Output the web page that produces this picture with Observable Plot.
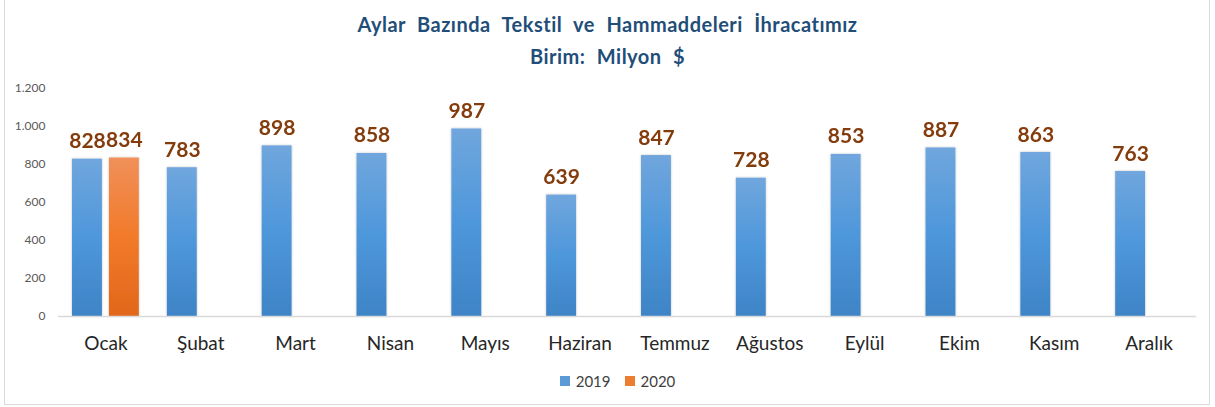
<!DOCTYPE html>
<html>
<head>
<meta charset="utf-8">
<script src="https://cdn.jsdelivr.net/npm/d3@7"></script>
<script src="https://cdn.jsdelivr.net/npm/@observablehq/plot@0.6"></script>
<style>
  html, body { margin: 0; padding: 0; background: #fff; }
  #wrap { position: relative; width: 1215px; height: 407px; overflow: hidden; font-family: Lato, "Open Sans", sans-serif; }
  #frame { position: absolute; left: 4px; top: -1px; width: 1206px; height: 406px; border: 1px solid #d9d9d9; box-sizing: border-box; }
  .title { position: absolute; left: 0; width: 1215px; text-align: center; font-weight: bold; color: #1f4e79; font-size: 20px; letter-spacing: 0.5px; word-spacing: 6px; }
  #chart { position: absolute; left: 0; top: 75px; }
  #legend { position: absolute; left: 10px; width: 1215px; top: 371px; text-align: center; font-size: 15px; color: #404040; }
  #legend span.item { display: inline-flex; align-items: center; margin: 0 7px; }
  #legend span.sw { display: inline-block; width: 10px; height: 10px; margin-right: 6px; }
</style>
</head>
<body>
<div id="wrap">
  <div id="frame"></div>
  <div class="title" style="top:12px">Aylar Bazında Tekstil ve Hammaddeleri İhracatımız</div>
  <div class="title" style="top:44px">Birim: Milyon $</div>
  <div id="chart"></div>
  <div id="legend"></div>
</div>
<script>
const months = ["Ocak", "Şubat", "Mart", "Nisan", "Mayıs", "Haziran", "Temmuz", "Ağustos", "Eylül", "Ekim", "Kasım", "Aralık"];
const years = ["2019", "2020"];
const values2019 = [828, 783, 898, 858, 987, 639, 847, 728, 853, 887, 863, 763];
const values2020 = [834];
const yTicks = [0, 200, 400, 600, 800, 1000, 1200];
const seriesColors = ["#5b9bd5", "#ed7d31"];

const data = [];
months.forEach((m, i) => {
  if (values2019[i] != null) data.push({month: m, year: years[0], value: values2019[i]});
  if (values2020[i] != null) data.push({month: m, year: years[1], value: values2020[i]});
});

const trFormat = d3.formatLocale({decimal: ",", thousands: ".", grouping: [3], currency: ["", "$"]}).format(",");

const plot = Plot.plot({
  width: 1215,
  height: 285,
  marginLeft: 58,
  marginRight: 19,
  marginTop: 13,
  marginBottom: 44,
  style: {fontFamily: "Lato, 'Open Sans', sans-serif", background: "transparent", overflow: "visible"},
  fx: {domain: months, padding: 0, round: false, label: null, axis: "bottom", tickSize: 0, tickPadding: 20},
  x: {domain: years, axis: null, round: false, paddingInner: 0.19, paddingOuter: 0.38},
  y: {domain: [0, 1200], ticks: yTicks, tickFormat: trFormat, tickSize: 0, tickPadding: 13, label: null, grid: false},
  marks: [
    Plot.barY(data.filter(d => d.year === years[0]), {fx: "month", x: "year", y: "value", fill: "url(#grad2019)"}),
    Plot.barY(data.filter(d => d.year === years[1]), {fx: "month", x: "year", y: "value", fill: "url(#grad2020)"}),
    Plot.ruleY([0], {stroke: "#d9d9d9", strokeWidth: 1.5}),
    Plot.text(data, {fx: "month", x: "year", y: "value", text: d => String(d.value), lineAnchor: "bottom", dy: -11, fill: "#843c0c", fontWeight: "bold", fontSize: 21})
  ]
});

// gradients and soft edge
const ns = "http://www.w3.org/2000/svg";
const defs = document.createElementNS(ns, "defs");
defs.innerHTML = `
  <linearGradient id="grad2019" x1="0" y1="0" x2="0" y2="1">
    <stop offset="0" stop-color="#70a6dd"/>
    <stop offset="0.5" stop-color="#4e97db"/>
    <stop offset="1" stop-color="#3e84c6"/>
  </linearGradient>
  <linearGradient id="grad2020" x1="0" y1="0" x2="0" y2="1">
    <stop offset="0" stop-color="#f0905a"/>
    <stop offset="0.5" stop-color="#f27a2a"/>
    <stop offset="1" stop-color="#e1671b"/>
  </linearGradient>
  <filter id="soft" x="-20%" y="-5%" width="140%" height="110%">
    <feDropShadow dx="0" dy="0" stdDeviation="0.8" flood-color="#000" flood-opacity="0.25"/>
  </filter>`;
plot.insertBefore(defs, plot.firstChild);
d3.select(plot).selectAll("g[aria-label='bar']").attr("filter", "url(#soft)");

// axis text styling
d3.select(plot).selectAll("g[aria-label='y-axis tick label']").attr("font-size", 12).attr("fill", "#595959");
d3.select(plot).selectAll("g[aria-label='fx-axis tick label']").attr("font-size", 19).attr("fill", "#262626");

document.getElementById("chart").appendChild(plot);

// legend
const legend = document.getElementById("legend");
years.forEach((y, i) => {
  const item = document.createElement("span");
  item.className = "item";
  const sw = document.createElement("span");
  sw.className = "sw";
  sw.style.background = seriesColors[i];
  item.appendChild(sw);
  item.appendChild(document.createTextNode(y));
  legend.appendChild(item);
});
</script>
</body>
</html>
